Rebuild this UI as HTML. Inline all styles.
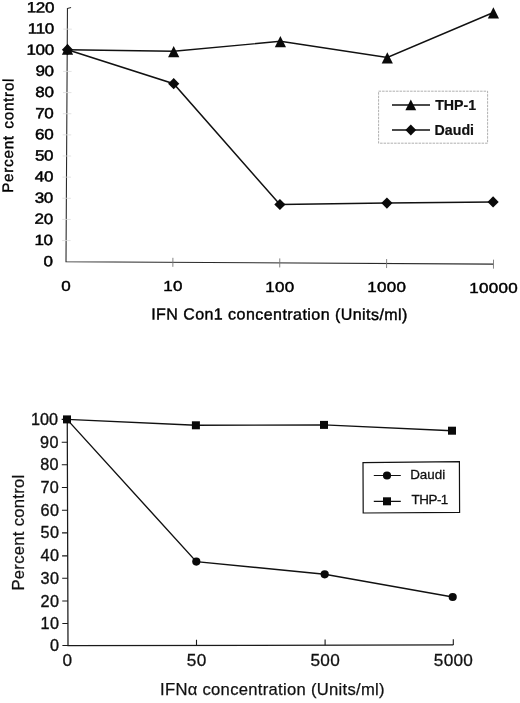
<!DOCTYPE html>
<html lang="en"><head><meta charset="utf-8"><title>Percent control vs IFN concentration</title>
<style>
html,body{margin:0;padding:0;background:#fff;}
body{width:520px;height:703px;overflow:hidden;}
svg{display:block;}
text{font-family:"Liberation Sans",sans-serif;fill:#111;}
.t1{font-size:16px;letter-spacing:0.45px;fill:#000;stroke:#000;stroke-width:0.4px;}
.t1n{font-size:14.8px;letter-spacing:0.2px;fill:#000;stroke:#000;stroke-width:0.45px;}
.t1b{font-size:14.2px;font-weight:bold;stroke:#111;stroke-width:0.2px;}
.t2{font-size:16.6px;letter-spacing:0.3px;stroke:#111;stroke-width:0.25px;}
.t2y{font-size:16.2px;letter-spacing:0.4px;stroke:#111;stroke-width:0.35px;}
.t2x{font-size:17.2px;letter-spacing:0.3px;stroke:#111;stroke-width:0.3px;}
.t2l{font-size:13.4px;stroke:#111;stroke-width:0.3px;}
</style></head><body>
<svg width="520" height="703" viewBox="0 0 520 703">
<rect width="520" height="703" fill="#fff"/>
<g id="chart-top">
<g transform="rotate(0.33 66.0 261.7)">
<path d="M66.0 8.0V261.7H493.5" fill="none" stroke="#2a2a2a" stroke-width="1.1"/>
<path d="M66.0 8.4L69.6 7.5" stroke="#333" stroke-width="1"/>
<path d="M62 29.14H70.5M62 50.28H70.5M62 71.42H70.5M62 92.57H70.5M62 113.71H70.5M62 134.85H70.5M62 155.99H70.5M62 177.13H70.5M62 198.27H70.5M62 219.42H70.5M62 240.56H70.5" stroke="#dcdcdc" stroke-width="0.8"/>
<path d="M172.88 257.2V266.2M279.75 257.2V266.2M386.62 257.2V266.2M493.5 257.2V266.2" stroke="#777" stroke-width="0.9"/>
<text class="t1n" style="letter-spacing:-0.3px" transform="translate(52.6 12.6) scale(1.15 1)" text-anchor="end">120</text>
<text class="t1n" style="letter-spacing:-0.3px" transform="translate(52.6 33.74) scale(1.15 1)" text-anchor="end">110</text>
<text class="t1n" style="letter-spacing:-0.3px" transform="translate(52.6 54.88) scale(1.15 1)" text-anchor="end">100</text>
<text class="t1n" style="letter-spacing:-0.3px" transform="translate(52.6 76.02) scale(1.15 1)" text-anchor="end">90</text>
<text class="t1n" style="letter-spacing:-0.3px" transform="translate(52.6 97.17) scale(1.15 1)" text-anchor="end">80</text>
<text class="t1n" style="letter-spacing:-0.3px" transform="translate(52.6 118.31) scale(1.15 1)" text-anchor="end">70</text>
<text class="t1n" style="letter-spacing:-0.3px" transform="translate(52.6 139.45) scale(1.15 1)" text-anchor="end">60</text>
<text class="t1n" style="letter-spacing:-0.3px" transform="translate(52.6 160.59) scale(1.15 1)" text-anchor="end">50</text>
<text class="t1n" style="letter-spacing:-0.3px" transform="translate(52.6 181.73) scale(1.15 1)" text-anchor="end">40</text>
<text class="t1n" style="letter-spacing:-0.3px" transform="translate(52.6 202.87) scale(1.15 1)" text-anchor="end">30</text>
<text class="t1n" style="letter-spacing:-0.3px" transform="translate(52.6 224.02) scale(1.15 1)" text-anchor="end">20</text>
<text class="t1n" style="letter-spacing:-0.3px" transform="translate(52.6 245.16) scale(1.15 1)" text-anchor="end">10</text>
<text class="t1n" style="letter-spacing:-0.3px" transform="translate(52.6 266.3) scale(1.15 1)" text-anchor="end">0</text>
<text class="t1" style="font-size:15.2px;letter-spacing:0.75px;word-spacing:1.6px" transform="translate(12.5 135.6) rotate(-90)" text-anchor="middle">Percent control</text>
</g>
<text class="t1n" transform="translate(66.1 291) scale(1.15 1)" text-anchor="middle">0</text>
<text class="t1n" transform="translate(172.97 291.4) scale(1.15 1)" text-anchor="middle">10</text>
<text class="t1n" transform="translate(279.85 291.8) scale(1.15 1)" text-anchor="middle">100</text>
<text class="t1n" transform="translate(386.73 292.2) scale(1.15 1)" text-anchor="middle">1000</text>
<text class="t1n" transform="translate(493.6 292.6) scale(1.15 1)" text-anchor="middle">10000</text>
<text class="t1" transform="rotate(0.12 280 320)" x="279.5" y="319.7" text-anchor="middle">IFN Con1 concentration (Units/ml)</text>
<polyline points="67.5,49.7 173.7,51.3 280.4,41.3 387.3,57.5 493.4,12.5" fill="none" stroke="#111" stroke-width="1.4"/>
<polyline points="67.5,49.7 173.7,83.7 279.9,204.5 386.9,203.1 493.1,201.9" fill="none" stroke="#111" stroke-width="1.5"/>
<path d="M67.5 43.6L73.1 54.8H61.9Z" fill="#0a0a0a"/>
<path d="M173.7 46.1L179.3 57.3H168.1Z" fill="#0a0a0a"/>
<path d="M280.4 36.1L286 47.3H274.8Z" fill="#0a0a0a"/>
<path d="M387.3 52.3L392.9 63.5H381.7Z" fill="#0a0a0a"/>
<path d="M493.4 7.3L499 18.5H487.8Z" fill="#0a0a0a"/>
<path d="M67.5 44.1L73.1 49.7L67.5 55.3L61.9 49.7Z" fill="#0a0a0a"/>
<path d="M173.7 78.1L179.3 83.7L173.7 89.3L168.1 83.7Z" fill="#0a0a0a"/>
<path d="M279.9 198.9L285.5 204.5L279.9 210.1L274.3 204.5Z" fill="#0a0a0a"/>
<path d="M386.9 197.5L392.5 203.1L386.9 208.7L381.3 203.1Z" fill="#0a0a0a"/>
<path d="M493.1 196.3L498.7 201.9L493.1 207.5L487.5 201.9Z" fill="#0a0a0a"/>
<rect x="378.6" y="91.2" width="109" height="52" fill="#fff" stroke="#9a9a9a" stroke-width="0.8" stroke-dasharray="2.5 1"/>
<path d="M392 105H430M392 130H430" stroke="#111" stroke-width="1.4"/>
<path d="M410.8 99.4L416.2 110.2H405.4Z" fill="#0a0a0a"/>
<path d="M410.8 124.6L416.2 130L410.8 135.4L405.4 130Z" fill="#0a0a0a"/>
<text class="t1b" x="435.2" y="110.4">THP-1</text>
<text class="t1b" x="434.6" y="135.4">Daudi</text>
</g>
<g id="chart-bottom">
<path d="M67.25 419.4L68.0 645.6L453.3 644.9" fill="none" stroke="#1a1a1a" stroke-width="1.25"/>
<path d="M61.65 419.4H67.25M61.73 442.2H67.33M61.8 464.8H67.4M61.88 487.5H67.48M61.95 510.2H67.55M62.03 532.9H67.63M62.1 555.9H67.7M62.18 578.2H67.78M62.25 601H67.85M62.33 623.5H67.93M62.4 645.5H68" stroke="#1a1a1a" stroke-width="1.1"/>
<path d="M196.5 645.37V639.77M325.1 645.13V639.53M453.3 644.9V639.3" stroke="#1a1a1a" stroke-width="1.1"/>
<text class="t2y" style="letter-spacing:0" x="58" y="424.9" text-anchor="end">100</text>
<text class="t2y" x="58.8" y="447.7" text-anchor="end">90</text>
<text class="t2y" x="59" y="470.3" text-anchor="end">80</text>
<text class="t2y" x="59.2" y="493" text-anchor="end">70</text>
<text class="t2y" x="59.4" y="515.7" text-anchor="end">60</text>
<text class="t2y" x="59.4" y="538.4" text-anchor="end">50</text>
<text class="t2y" x="59.4" y="561.4" text-anchor="end">40</text>
<text class="t2y" x="59.4" y="583.7" text-anchor="end">30</text>
<text class="t2y" x="59.4" y="606.5" text-anchor="end">20</text>
<text class="t2y" x="59.4" y="629" text-anchor="end">10</text>
<text class="t2y" x="59.4" y="651" text-anchor="end">0</text>
<text class="t2x" x="67.4" y="666.1" text-anchor="middle">0</text>
<text class="t2x" x="196.7" y="666.1" text-anchor="middle">50</text>
<text class="t2x" x="325.3" y="666.1" text-anchor="middle">500</text>
<text class="t2x" x="453.5" y="666.1" text-anchor="middle">5000</text>
<text class="t2" x="272.5" y="695.1" text-anchor="middle">IFNα concentration (Units/ml)</text>
<text class="t2" transform="translate(24.2 532.5) rotate(-90)" text-anchor="middle">Percent control</text>
<polyline points="67,419.4 196.3,561.6 324.7,574.3 452.7,597" fill="none" stroke="#111" stroke-width="1.4"/>
<polyline points="67,419.4 195.9,425.3 324,424.9 452,430.7" fill="none" stroke="#111" stroke-width="1.4"/>
<circle cx="196.3" cy="561.6" r="4.1" fill="#0a0a0a"/>
<circle cx="324.7" cy="574.3" r="4.1" fill="#0a0a0a"/>
<circle cx="452.7" cy="597" r="4.1" fill="#0a0a0a"/>
<rect x="63" y="415.4" width="8" height="8" fill="#0a0a0a"/>
<rect x="191.9" y="421.3" width="8" height="8" fill="#0a0a0a"/>
<rect x="320" y="420.9" width="8" height="8" fill="#0a0a0a"/>
<rect x="448" y="426.7" width="8" height="8" fill="#0a0a0a"/>
<path d="M363 462.6L459.4 461.6L459.6 512.4L363.2 513Z" fill="#fff" stroke="#111" stroke-width="1.2"/>
<path d="M373.8 475.5H400.8M373.8 501.3H400.8" stroke="#111" stroke-width="1.2"/>
<circle cx="387" cy="475.5" r="4.1" fill="#0a0a0a"/>
<rect x="383" y="497.3" width="8" height="8" fill="#0a0a0a"/>
<text class="t2l" x="410.2" y="478.9">Daudi</text>
<text class="t2l" x="411.6" y="503.9" style="letter-spacing:-0.5px">THP-1</text>
</g>
</svg>
</body></html>
